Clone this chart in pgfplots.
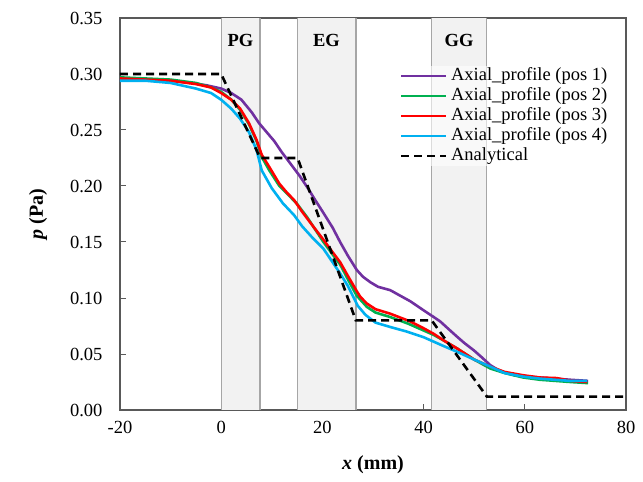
\documentclass[border=0pt]{standalone}
\usepackage{fontspec}
\setmainfont{Liberation Serif}
\usepackage{pgfplots}
\pgfplotsset{compat=1.18}
\definecolor{pos1}{HTML}{7030A0}
\definecolor{pos2}{HTML}{00B050}
\definecolor{pos3}{HTML}{FF0000}
\definecolor{pos4}{HTML}{00B0F0}
\definecolor{gapfill}{HTML}{F2F2F2}
\definecolor{gapline}{HTML}{A6A6A6}
\newcommand\bigf{\fontsize{18.5}{21}\selectfont}

\begin{document}
\begin{tikzpicture}
\begin{axis}[
    name=ax,
    scale only axis,
    width=506pt,
    height=392pt,
    xmin=-20, xmax=80,
    ymin=0, ymax=0.35,
    xtick={-20,0,20,40,60,80},
    ytick={0,0.05,0.10,0.15,0.20,0.25,0.30,0.35},
    tick align=inside,
    xtick pos=bottom,
    ytick pos=left,
    major tick length=6pt,
    axis line style={draw=black!65, line width=1.1pt},
    every tick/.style={draw=black!65, line width=1pt},
    /pgf/number format/assume math mode=true,
    tick label style={font=\bigf},
    yticklabel style={xshift=-14pt, /pgf/number format/.cd, fixed, fixed zerofill, precision=2},
    xticklabel style={yshift=-8pt},
    every axis y label/.style={at={(axis description cs:0,0.5)}, xshift=-82pt, rotate=90, anchor=center, font=\fontsize{20}{24}\selectfont\bfseries},
    every axis x label/.style={at={(axis description cs:0.5,0)}, yshift=-55pt, anchor=center, font=\fontsize{20}{24}\selectfont\bfseries},
    ylabel={\textit{p} (Pa)},
    xlabel={\textit{x} (mm)},
    legend cell align=left,
    legend style={at={(axis description cs:0.553,0.878)}, anchor=north west,
        draw=none, fill=white, fill opacity=0.6, text opacity=1, font=\bigf,
        inner xsep=0pt, inner ysep=0pt, row sep=0pt,
        nodes={inner sep=0.5pt, text height=13.5pt, text depth=5.5pt}},
    legend image code/.code={\draw[#1] (0pt,0pt) -- (45pt,0pt);},
]
% shaded gaps
\fill[gapfill] (axis cs:0,0) rectangle (axis cs:7.7,0.35);
\fill[gapfill] (axis cs:15.1,0) rectangle (axis cs:26.6,0.35);
\fill[gapfill] (axis cs:41.6,0) rectangle (axis cs:52.4,0.35);
\draw[gapline, line width=1.4pt] (axis cs:0,0) -- (axis cs:0,0.35);
\draw[gapline, line width=1.4pt] (axis cs:7.7,0) -- (axis cs:7.7,0.35);
\draw[gapline, line width=1.4pt] (axis cs:15.1,0) -- (axis cs:15.1,0.35);
\draw[gapline, line width=1.4pt] (axis cs:26.6,0) -- (axis cs:26.6,0.35);
\draw[gapline, line width=1.4pt] (axis cs:41.6,0) -- (axis cs:41.6,0.35);
\draw[gapline, line width=1.4pt] (axis cs:52.4,0) -- (axis cs:52.4,0.35);
\node[font=\bigf\bfseries] at (axis cs:3.8,0.330) {PG};
\node[font=\bigf\bfseries] at (axis cs:20.8,0.330) {EG};
\node[font=\bigf\bfseries] at (axis cs:47.0,0.330) {GG};

\addplot[pos1, line width=2.6pt, no markers] coordinates {
(-20,0.295) (-15,0.295) (-10,0.294) (-6,0.292) (-3,0.290) (0,0.287) (2,0.283)
(4,0.277) (6,0.266) (7.5,0.256) (9,0.248) (10.5,0.240) (12,0.230) (13.6,0.2205)
(15.5,0.209) (17,0.199) (18.5,0.188) (20.2,0.176) (22,0.163) (23.5,0.150) (25,0.138)
(26.8,0.125) (28,0.119) (29.5,0.114) (31,0.110) (33.4,0.107) (35,0.103) (37.4,0.097)
(40,0.089) (42,0.083) (43.3,0.079) (45,0.072) (46.6,0.0655) (48,0.060) (50,0.053)
(51.5,0.047) (53.2,0.040) (55,0.035) (56.5,0.033) (58,0.031) (60,0.030) (63,0.029)
(66,0.028) (69,0.027) (72.5,0.026)
};
\addlegendentry{\hspace{3pt}Axial\_profile (pos 1)}
\addplot[pos2, line width=2.6pt, no markers] coordinates {
(-20,0.297) (-15,0.296) (-10,0.295) (-5,0.292) (-2,0.288) (0,0.284) (2,0.277)
(3.75,0.268) (5.5,0.255) (7,0.240) (8,0.226) (9.5,0.214) (11.5,0.200) (13.6,0.1905)
(15,0.184) (17,0.172) (20.2,0.150) (22,0.139) (23.5,0.130) (25,0.117) (26.8,0.102)
(28.8,0.092) (30.5,0.087) (33.4,0.083) (37,0.077) (40,0.071) (42,0.067) (44,0.062)
(46.6,0.055) (50,0.045) (53.2,0.037) (56,0.033) (59.7,0.029) (63,0.027) (66,0.026)
(69,0.025) (72.5,0.024)
};
\addlegendentry{\hspace{3pt}Axial\_profile (pos 2)}
\addplot[pos3, line width=2.6pt, no markers] coordinates {
(-20,0.296) (-15,0.295) (-10,0.294) (-5,0.291) (-2,0.288) (0,0.283) (2,0.277)
(3.75,0.269) (5.5,0.256) (7,0.241) (8,0.228) (9.5,0.217) (11.5,0.202) (13,0.194)
(14.4,0.1875) (16,0.177) (18,0.165) (20.2,0.152) (22,0.141) (23.5,0.132) (25,0.120)
(26.8,0.106) (27.5,0.101) (28.8,0.095) (30.5,0.090) (33.4,0.086) (37.4,0.079)
(40,0.073) (42,0.068) (44,0.062) (46.6,0.055) (50,0.045) (53.2,0.0387) (56,0.034)
(59.7,0.031) (63,0.029) (66.3,0.0285) (69,0.026) (72.3,0.025)
};
\addlegendentry{\hspace{3pt}Axial\_profile (pos 3)}
\addplot[pos4, line width=2.6pt, no markers] coordinates {
(-20,0.294) (-15,0.294) (-10,0.292) (-5,0.287) (-2,0.283) (0,0.277) (2,0.269)
(3.75,0.260) (5.5,0.248) (7,0.232) (8,0.214) (10,0.198) (12.2,0.1845) (14.4,0.174)
(16,0.164) (18,0.154) (20.2,0.144) (22,0.132) (23.5,0.122) (25,0.111) (26.1,0.101)
(27,0.093) (28.5,0.085) (30.5,0.078) (33.5,0.074) (36.7,0.070) (40,0.065) (42,0.061)
(44,0.057) (46.6,0.052) (50,0.045) (53.2,0.0387) (56,0.033) (59.7,0.0298) (63,0.028)
(66,0.027) (69,0.026) (72.3,0.026)
};
\addlegendentry{\hspace{3pt}Axial\_profile (pos 4)}
\addplot[black, line width=2.6pt, dash pattern=on 8pt off 5pt, no markers] coordinates {
(-20,0.300) (0,0.300) (7.7,0.225) (15.1,0.225) (26.6,0.080) (41.6,0.080) (52.5,0.012) (80,0.012)
};
\addlegendentry{\hspace{3pt}Analytical}
\end{axis}
\pgfresetboundingbox
\path ([shift={(-120pt,-71pt)}]ax.south west) rectangle ([shift={(17pt,18pt)}]ax.north east);
\end{tikzpicture}
\end{document}
